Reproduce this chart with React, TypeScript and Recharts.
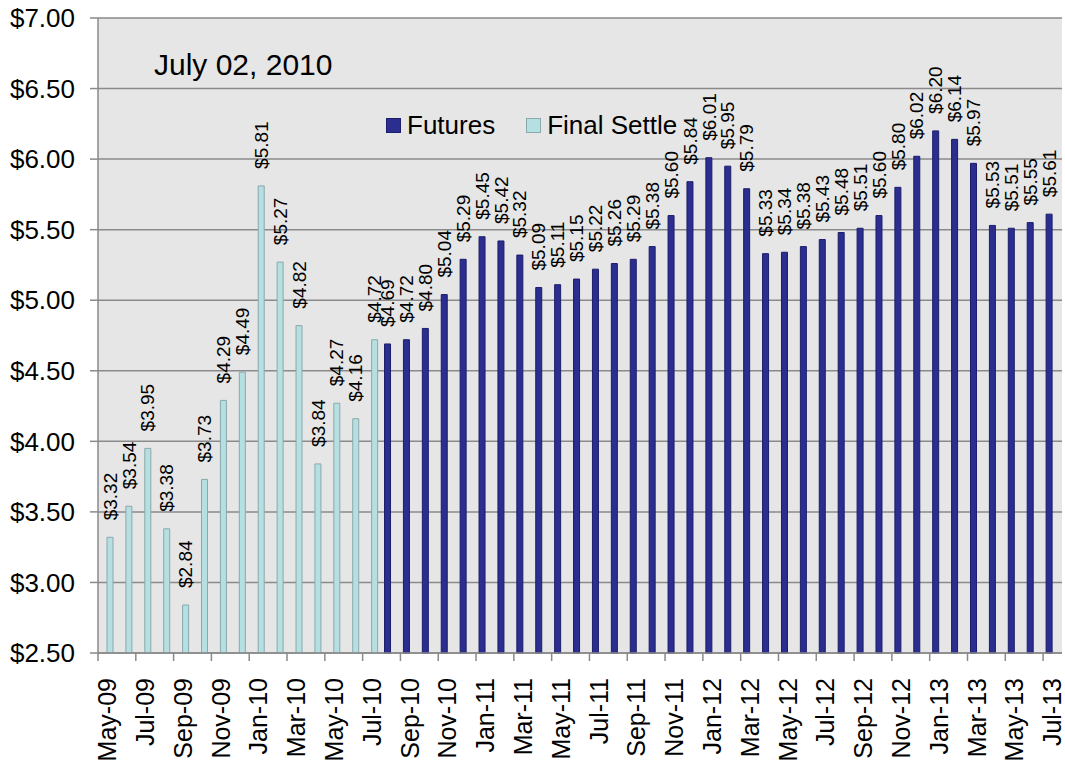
import { BarChart, Bar, XAxis, YAxis, CartesianGrid, LabelList } from "recharts"

const months = [
  "May-09", "Jun-09", "Jul-09", "Aug-09", "Sep-09", "Oct-09", "Nov-09", "Dec-09",
  "Jan-10", "Feb-10", "Mar-10", "Apr-10", "May-10", "Jun-10", "Jul-10", "Aug-10",
  "Sep-10", "Oct-10", "Nov-10", "Dec-10", "Jan-11", "Feb-11", "Mar-11", "Apr-11",
  "May-11", "Jun-11", "Jul-11", "Aug-11", "Sep-11", "Oct-11", "Nov-11", "Dec-11",
  "Jan-12", "Feb-12", "Mar-12", "Apr-12", "May-12", "Jun-12", "Jul-12", "Aug-12",
  "Sep-12", "Oct-12", "Nov-12", "Dec-12", "Jan-13", "Feb-13", "Mar-13", "Apr-13",
  "May-13", "Jun-13", "Jul-13",
]

// May-09 .. Jul-10
const finalSettle = [3.32, 3.54, 3.95, 3.38, 2.84, 3.73, 4.29, 4.49, 5.81, 5.27, 4.82, 3.84, 4.27, 4.16, 4.72]

// Aug-10 .. Jul-13
const futures = [
  4.69, 4.72, 4.8, 5.04, 5.29, 5.45, 5.42, 5.32, 5.09, 5.11, 5.15, 5.22,
  5.26, 5.29, 5.38, 5.6, 5.84, 6.01, 5.95, 5.79, 5.33, 5.34, 5.38, 5.43,
  5.48, 5.51, 5.6, 5.8, 6.02, 6.2, 6.14, 5.97, 5.53, 5.51, 5.55, 5.61,
]

const yTicks = [2.5, 3, 3.5, 4, 4.5, 5, 5.5, 6, 6.5, 7]

const data = months.map((m, i) => ({
  month: m,
  futures: i >= finalSettle.length ? futures[i - finalSettle.length] : null,
  settle: i < finalSettle.length ? finalSettle[i] : null,
}))

const FONT = "'Liberation Sans', Arial, sans-serif"
const BAND = 964 / months.length

const money = (v: number) => `$${v.toFixed(2)}`

function XTick({ x, y, payload }: any) {
  const lx = x - BAND / 2
  return (
    <g>
      <line x1={lx} x2={lx} y1={y} y2={y + 8} stroke="#8a8a8a" strokeWidth={1.5} />
      <text
        x={x}
        y={y + 25}
        transform={`rotate(-90 ${x} ${y + 25})`}
        textAnchor="end"
        dy="0.35em"
        fontSize={25}
        fill="#000"
      >
        {payload.value}
      </text>
    </g>
  )
}

function BarLabel({ x, y, width, value }: any) {
  if (value == null) return null
  const cx = x + width / 2
  const ty = y - 17
  return (
    <text
      x={cx}
      y={ty}
      transform={`rotate(-90 ${cx} ${ty})`}
      textAnchor="start"
      dy="0.35em"
      fontSize={19}
      fill="#000"
    >
      {money(value)}
    </text>
  )
}

function LegendItem({ color, border, text }: { color: string; border: string; text: string }) {
  return (
    <span style={{ display: "inline-flex", alignItems: "center", marginRight: 31 }}>
      <span
        style={{
          display: "inline-block",
          width: 13,
          height: 13,
          background: color,
          border: `1.5px solid ${border}`,
          marginRight: 6,
        }}
      />
      <span style={{ fontSize: 26, color: "#000" }}>{text}</span>
    </span>
  )
}

export default function App() {
  return (
    <div style={{ position: "absolute", left: 0, top: 0, width: 1065, height: 765, fontFamily: FONT, background: "#fff" }}>
      <BarChart
        width={1065}
        height={765}
        data={data}
        margin={{ top: 18, right: 3, bottom: 0, left: 0 }}
        barGap={0}
      >
        <CartesianGrid vertical={false} fill="#e6e6e6" stroke="#8a8a8a" strokeWidth={1.5} />
        <XAxis
          dataKey="month"
          interval={1}
          height={112}
          tickLine={false}
          tickSize={0}
          tickMargin={0}
          axisLine={{ stroke: "#8a8a8a", strokeWidth: 1.5 }}
          tick={<XTick />}
        />
        <YAxis
          width={98}
          domain={[2.5, 7]}
          ticks={yTicks}
          interval={0}
          tickFormatter={money}
          tickSize={8}
          tickMargin={15}
          tick={{ fontSize: 26, fill: "#000" }}
          tickLine={{ stroke: "#8a8a8a", strokeWidth: 1.5 }}
          axisLine={{ stroke: "#8a8a8a", strokeWidth: 1.5 }}
        />
        <Bar dataKey="futures" name="Futures" fill="#2B2E8F" stroke="#1c1d6b" strokeWidth={1} barSize={6} isAnimationActive={false}>
          <LabelList dataKey="futures" content={<BarLabel />} />
        </Bar>
        <Bar dataKey="settle" name="Final Settle" fill="#B6DFE1" stroke="#8aa9ac" strokeWidth={1} barSize={6} isAnimationActive={false}>
          <LabelList dataKey="settle" content={<BarLabel />} />
        </Bar>
      </BarChart>
      <div style={{ position: "absolute", left: 386, top: 110, display: "flex", lineHeight: "30px" }}>
        <LegendItem color="#2B2E8F" border="#1c1d6b" text="Futures" />
        <LegendItem color="#B6DFE1" border="#8aa9ac" text="Final Settle" />
      </div>
      <div style={{ position: "absolute", left: 154, top: 50, fontSize: 30, lineHeight: "30px", color: "#000" }}>
        July 02, 2010
      </div>
    </div>
  )
}
